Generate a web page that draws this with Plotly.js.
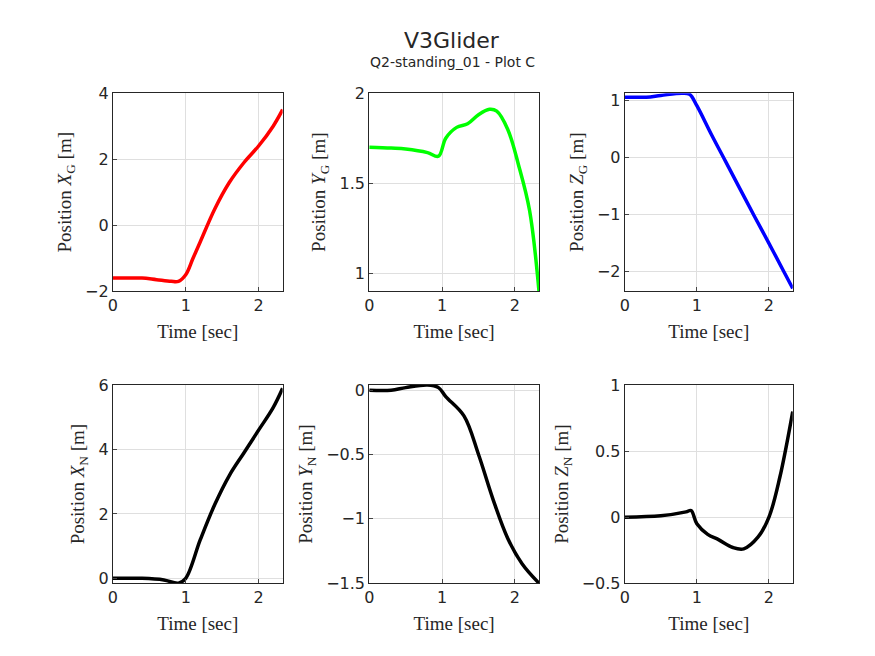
<!DOCTYPE html>
<html><head><meta charset="utf-8">
<script src="https://cdn.plot.ly/plotly-3.0.1.min.js"></script>
</head><body style="margin:0">
<div id="plot" style="width:875px;height:656px"></div>
<script>
// time samples (sec) and position values
var tXG = [0, 0.2, 0.4, 0.6, 0.8, 0.9, 1.0, 1.1, 1.2, 1.4, 1.6, 1.8, 2.0, 2.2, 2.33];
var xG  = [-1.6, -1.6, -1.6, -1.65, -1.7, -1.7, -1.5, -1.0, -0.5, 0.5, 1.3, 1.9, 2.4, 3.0, 3.5];
var tYG = [0, 0.3, 0.5, 0.8, 0.95, 1.05, 1.2, 1.35, 1.5, 1.65, 1.75, 1.9, 2.05, 2.2, 2.33];
var yG  = [1.70, 1.695, 1.69, 1.67, 1.65, 1.75, 1.81, 1.83, 1.88, 1.91, 1.90, 1.80, 1.60, 1.35, 0.9];
var tZG = [0, 0.3, 0.5, 0.8, 0.9, 1.0, 1.2, 1.4, 1.6, 1.8, 2.0, 2.2, 2.33];
var zG  = [1.05, 1.05, 1.08, 1.12, 1.1, 0.9, 0.4, -0.08, -0.56, -1.04, -1.51, -1.99, -2.3];
var tXN = [0, 0.2, 0.4, 0.7, 0.9, 1.0, 1.2, 1.4, 1.6, 1.8, 2.0, 2.2, 2.33];
var xN  = [0, 0, 0, -0.05, -0.15, 0, 1.2, 2.3, 3.2, 3.9, 4.6, 5.3, 5.9];
var tYN = [0, 0.3, 0.5, 0.8, 0.95, 1.05, 1.3, 1.5, 1.7, 1.9, 2.1, 2.33];
var yN  = [0, 0, 0.02, 0.04, 0.02, -0.05, -0.2, -0.5, -0.85, -1.15, -1.35, -1.5];
var tZN = [0, 0.5, 0.85, 0.92, 1.0, 1.15, 1.3, 1.5, 1.65, 1.85, 2.0, 2.15, 2.33];
var zN  = [0, 0.01, 0.04, 0.05, -0.05, -0.13, -0.17, -0.23, -0.24, -0.15, 0.0, 0.3, 0.8];

var series = [
  [tXG, xG, "#ff0000", "X", "G", [-2, 4], 2],
  [tYG, yG, "#00ff00", "Y", "G", [0.9, 2], 0.5],
  [tZG, zG, "#0000ff", "Z", "G", [-2.35, 1.12], 1],
  [tXN, xN, "#000000", "X", "N", [-0.15, 6], 2],
  [tYN, yN, "#000000", "Y", "N", [-1.5, 0.04], 0.5],
  [tZN, zN, "#000000", "Z", "N", [-0.5, 1], 0.5]
];
var xd = [[0.129, 0.323], [0.422, 0.616], [0.714, 0.906]];
var yd = [[0.556, 0.858], [0.111, 0.413]];
var serif = "Liberation Serif, DejaVu Serif, serif";

var data = [], layout = {
  width: 875, height: 656, margin: {t: 0, r: 0, l: 0, b: 0},
  paper_bgcolor: "white", plot_bgcolor: "white", showlegend: false,
  font: {family: "DejaVu Sans", size: 16, color: "#262626"},
  annotations: [
    {text: "V3Glider", x: 0.517, y: 0.96, xref: "paper", yref: "paper", showarrow: false, font: {size: 22}},
    {text: "Q2-standing_01 - Plot C", x: 0.517, y: 0.92, xref: "paper", yref: "paper", showarrow: false, font: {size: 14}}
  ]
};
series.forEach(function (s, i) {
  var n = i + 1, sx = n === 1 ? "" : n;
  data.push({x: s[0], y: s[1], xaxis: "x" + sx, yaxis: "y" + sx, type: "scatter",
    mode: "lines", line: {color: s[2], width: 3.5, shape: "spline"}});
  var ax = {showline: true, mirror: true, linecolor: "#262626", ticks: "inside", ticklen: 4,
    showgrid: true, gridcolor: "#dfdfdf", zeroline: false};
  layout["xaxis" + sx] = Object.assign({}, ax, {domain: xd[i % 3], anchor: "y" + sx,
    range: [0, 2.33], dtick: 1, title: {text: "Time [sec]", font: {family: serif, size: 19}, standoff: 10}});
  layout["yaxis" + sx] = Object.assign({}, ax, {domain: yd[Math.floor(i / 3)], anchor: "x" + sx,
    range: s[5], dtick: s[6],
    title: {text: "Position <i>" + s[3] + "</i><sub>" + s[4] + "</sub> [m]", font: {family: serif, size: 19}, standoff: 8}});
});
Plotly.newPlot("plot", data, layout, {displayModeBar: false});
</script>
</body></html>
